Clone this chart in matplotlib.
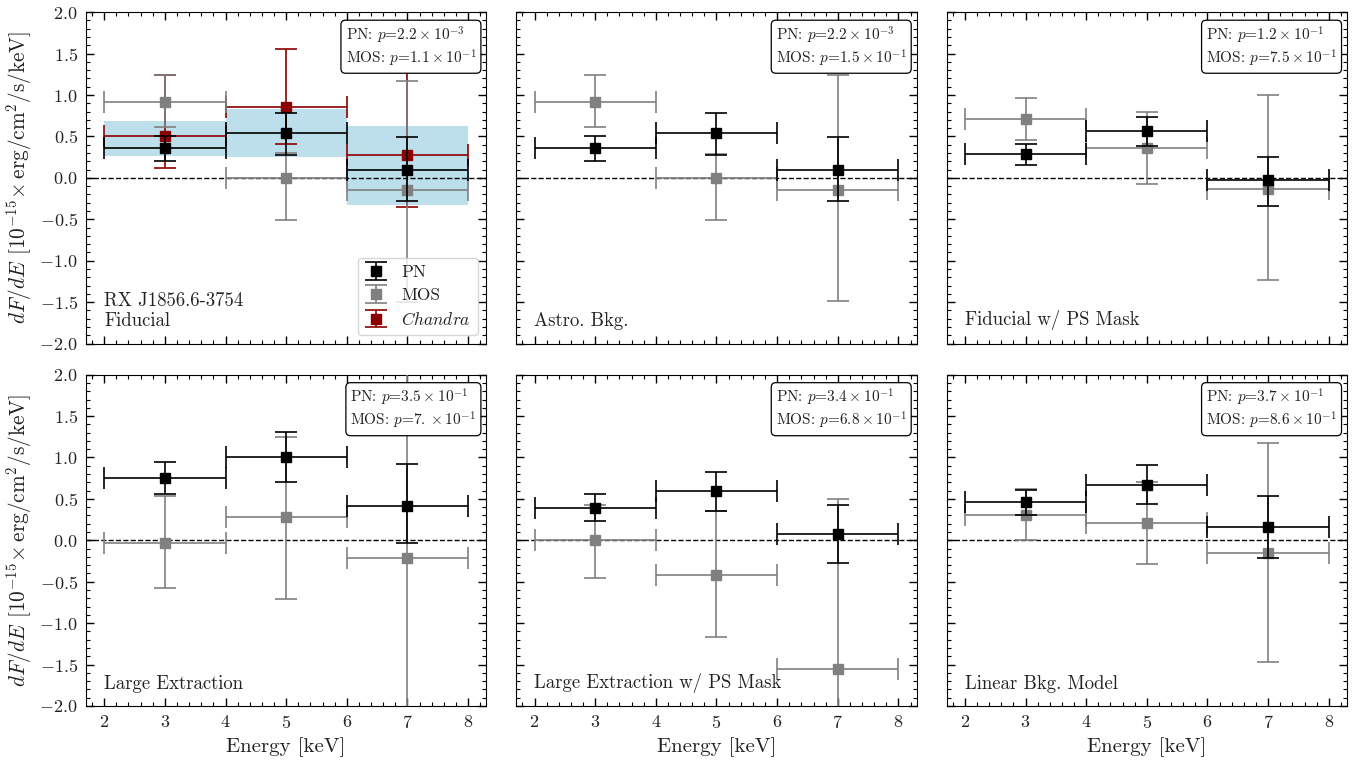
import numpy as np
import matplotlib
matplotlib.use("Agg")
import matplotlib.pyplot as plt
from matplotlib.ticker import MultipleLocator

plt.rcParams['font.family'] = 'serif'
plt.rcParams['font.serif'] = ['cmr10']
plt.rcParams['mathtext.fontset'] = 'cm'
plt.rcParams['axes.formatter.use_mathtext'] = True
plt.rcParams['axes.unicode_minus'] = True

# ---------------- data ----------------
bin_centers = [3, 5, 7]
bin_halfwidth = [1, 1, 1]

panel_titles = ["RX J1856.6-3754\nFiducial", "Astro. Bkg.", "Fiducial w/ PS Mask",
                "Large Extraction", "Large Extraction w/ PS Mask", "Linear Bkg. Model"]

pn_pvals = [r"2.2\times10^{-3}", r"2.2\times10^{-3}", r"1.2\times10^{-1}",
            r"3.5\times10^{-1}", r"3.4\times10^{-1}", r"3.7\times10^{-1}"]
mos_pvals = [r"1.1\times10^{-1}", r"1.5\times10^{-1}", r"7.5\times10^{-1}",
             r"7.\times10^{-1}", r"6.8\times10^{-1}", r"8.6\times10^{-1}"]

# PN: central value, lower bound, upper bound per bin
pn_val = [[0.36, 0.54, 0.10], [0.36, 0.54, 0.10], [0.29, 0.56, -0.03],
          [0.75, 1.00, 0.42], [0.39, 0.59, 0.08], [0.46, 0.67, 0.16]]
pn_lo = [[0.20, 0.28, -0.28], [0.20, 0.28, -0.28], [0.16, 0.38, -0.34],
         [0.56, 0.71, -0.03], [0.23, 0.36, -0.27], [0.31, 0.44, -0.21]]
pn_hi = [[0.51, 0.78, 0.49], [0.51, 0.78, 0.49], [0.41, 0.74, 0.25],
         [0.94, 1.31, 0.92], [0.56, 0.82, 0.43], [0.61, 0.91, 0.53]]

# MOS
mos_val = [[0.92, 0.00, -0.15], [0.92, 0.00, -0.15], [0.71, 0.36, -0.14],
           [-0.03, 0.28, -0.21], [0.00, -0.42, -1.55], [0.31, 0.21, -0.15]]
mos_lo = [[0.61, -0.51, -1.50], [0.61, -0.51, -1.49], [0.46, -0.08, -1.23],
          [-0.58, -0.71, -2.60], [-0.46, -1.17, -3.50], [0.00, -0.29, -1.47]]
mos_hi = [[1.24, 0.30, 1.17], [1.24, 0.29, 1.24], [0.96, 0.795, 1.00],
          [0.54, 1.25, 2.60], [0.43, 0.35, 0.50], [0.62, 0.71, 1.17]]

# Chandra (fiducial panel only)
chandra_val = [0.51, 0.86, 0.28]
chandra_lo = [0.12, 0.41, -0.35]
chandra_hi = [1.24, 1.55, 1.45]

# Shaded band (fiducial panel only)
band_lo = [0.26, 0.25, -0.33]
band_hi = [0.69, 0.83, 0.63]

# ---------------- figure ----------------
fig, axes = plt.subplots(2, 3, figsize=(13.57, 7.62), dpi=100, sharex=True, sharey=True)
fig.subplots_adjust(left=0.0634, right=0.9926, bottom=0.0735, top=0.984,
                    wspace=0.075, hspace=0.094)

ms = 7.5
cs = 8
lw = 1.2
pn_color = 'black'
mos_color = '#808080'
ch_color = '#8b0000'
txt_color = '#222222'


def draw_err(ax, val, lo, hi, color, z):
    v = np.array(val)
    yerr = np.vstack([v - np.array(lo), np.array(hi) - v])
    ax.errorbar(bin_centers, v, xerr=bin_halfwidth, yerr=yerr, fmt='s', color=color,
                ms=ms, capsize=cs, elinewidth=lw, capthick=lw, zorder=z)


for i, ax in enumerate(axes.flat):
    ax.axhline(0, color='black', ls='--', lw=1.0, zorder=1)
    if i == 0:
        for c, w, l, h in zip(bin_centers, bin_halfwidth, band_lo, band_hi):
            ax.fill_between([c - w, c + w], l, h, color='#add8e6', alpha=0.8, lw=0, zorder=0)
        draw_err(ax, chandra_val, chandra_lo, chandra_hi, ch_color, 3)
    draw_err(ax, mos_val[i], mos_lo[i], mos_hi[i], mos_color, 4)
    draw_err(ax, pn_val[i], pn_lo[i], pn_hi[i], pn_color, 5)

    ax.set_xlim(1.7, 8.3)
    ax.set_ylim(-2.0, 2.0)
    ax.xaxis.set_major_locator(MultipleLocator(1))
    ax.xaxis.set_minor_locator(MultipleLocator(0.2))
    ax.yaxis.set_major_locator(MultipleLocator(0.5))
    ax.yaxis.set_minor_locator(MultipleLocator(0.1))
    ax.tick_params(which='both', direction='in', top=True, right=True, labelsize=13,
                   labelcolor=txt_color, pad=6)
    ax.tick_params(which='major', length=6, width=1)
    ax.tick_params(which='minor', length=3, width=0.8)

    ax.text(0.045, 0.04, panel_titles[i], transform=ax.transAxes, fontsize=13.5,
            ha='left', va='bottom', color=txt_color, zorder=10, linespacing=1.15)
    ptxt = "PN: $p$=$" + pn_pvals[i] + "$\nMOS: $p$=$" + mos_pvals[i] + "$"
    ax.text(0.975, 0.962, ptxt, transform=ax.transAxes, fontsize=11, ha='right', va='top',
            multialignment='left', linespacing=1.1, zorder=20, color=txt_color,
            bbox=dict(boxstyle='round,pad=0.3', facecolor='white', edgecolor='black', lw=0.9))

    if i % 3 == 0:
        ax.set_ylabel(r"$dF/dE$ [$10^{-15}\!\times$erg/cm$^2$/s/keV]", fontsize=15.3,
                      color=txt_color)
    if i >= 3:
        ax.set_xlabel("Energy [keV]", fontsize=15, color=txt_color)

# legend in first panel (vertical error bars only)
ax0 = axes[0, 0]
h_pn = ax0.errorbar([np.nan], [np.nan], yerr=[1], fmt='s', color=pn_color, ms=ms,
                    capsize=cs, elinewidth=lw, capthick=lw, label='PN')
h_mos = ax0.errorbar([np.nan], [np.nan], yerr=[1], fmt='s', color=mos_color, ms=ms,
                     capsize=cs, elinewidth=lw, capthick=lw, label='MOS')
h_ch = ax0.errorbar([np.nan], [np.nan], yerr=[1], fmt='s', color=ch_color, ms=ms,
                    capsize=cs, elinewidth=lw, capthick=lw, label=r'$\it{Chandra}$')
leg = ax0.legend(handles=[h_pn, h_mos, h_ch], loc='lower right', fontsize=12.5,
                 frameon=True, fancybox=True, borderaxespad=0.5, handlelength=1.3,
                 handletextpad=0.8, labelspacing=0.45)
leg.get_frame().set_edgecolor('#cccccc')
for t in leg.get_texts():
    t.set_color(txt_color)
leg.set_zorder(30)

fig.savefig("out.png", dpi=100)
